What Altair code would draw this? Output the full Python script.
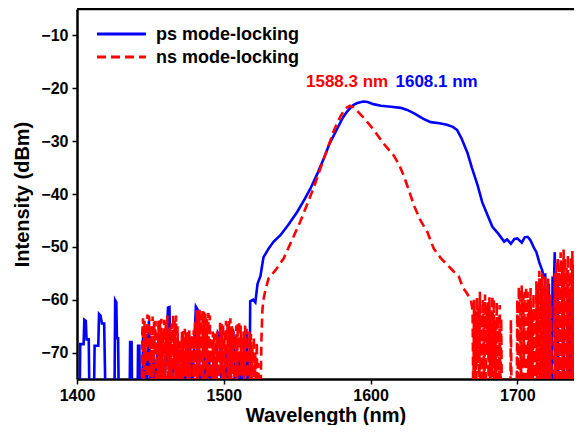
import altair as alt
import pandas as pd

# ---- data: (wavelength nm, intensity dBm) ----
# -80 marks the noise floor below the visible axis (clipped)
ps_noise_left = [
    (1400, -80), (1401.8, -80), (1402.2, -68.4), (1404.5, -68.4), (1405, -63.8), (1406, -64),
    (1406.5, -67.5), (1408, -67.5), (1408.5, -80), (1411.5, -80), (1412, -68.7), (1414.5, -68.7),
    (1415, -62.7), (1416, -63), (1417, -64.5), (1418.5, -64.5), (1419.5, -80), (1425.5, -80),
    (1426, -60.1), (1426.8, -60.5), (1427.2, -67.3), (1428, -67.3), (1428.5, -80), (1435.8, -80),
    (1436.2, -68), (1437.2, -68), (1437.6, -80), (1441.2, -80), (1441.6, -68.7), (1442.5, -68.7),
    (1443, -80), (1444.5, -80), (1445, -67), (1446, -66.5), (1447, -80), (1449, -64), (1450, -80),
    (1452, -70), (1453, -80), (1455, -68), (1456, -80), (1458, -72), (1459, -80), (1462, -61.5),
    (1463, -61.4), (1464, -80), (1467, -68), (1468, -80), (1470, -73), (1471, -80), (1473, -70),
    (1474, -80), (1477, -67), (1478, -80), (1481, -61.3), (1482.5, -62), (1484, -80), (1487, -69),
    (1488, -80), (1490, -71), (1491, -80), (1493, -72), (1494, -80), (1496, -66.3), (1497.5, -67),
    (1499, -80), (1502, -70), (1503, -80), (1505.5, -65.4), (1506.5, -66), (1508, -80), (1511, -70),
    (1512, -80), (1515.5, -66), (1516.5, -80), (1517.5, -80),
]
ps_band = [
    (1518, -60.3), (1520, -60), (1521.5, -60.5), (1523, -57), (1525, -55.5), (1527, -52),
    (1530.6, -50.3), (1534, -49), (1538.6, -47.8), (1544, -45.8), (1550, -43.4), (1555, -41),
    (1559, -39), (1564, -36), (1568, -33.4), (1572, -30.5), (1577, -27.8), (1581, -25.6),
    (1584, -24.4), (1588, -23.2), (1591, -22.8), (1595, -22.5), (1598, -22.6), (1602, -23.0),
    (1607, -23.3), (1614, -23.5), (1620.5, -23.7), (1625, -24.1), (1630, -24.8), (1636, -25.8),
    (1641, -26.4), (1647, -26.6), (1652, -26.9), (1656, -27.3), (1659, -27.9), (1662, -29.5),
    (1666, -32.2), (1669, -35), (1673, -38.4), (1676, -41.5), (1680, -44.2), (1683, -46.2),
    (1687, -47.5), (1691, -49), (1693, -48.6), (1695.6, -49.4), (1698, -48.5), (1700, -48.4),
    (1703, -49.2), (1705, -48.2), (1707, -48.1), (1709, -48.8), (1711.5, -50.3), (1713, -51),
    (1715, -53), (1717, -54.5), (1718, -56), (1719, -55),
]
ps_noise_right = [
    (1719.6, -80), (1721, -80), (1721.5, -57), (1722, -80), (1723.5, -80), (1724, -55.9),
    (1725, -56), (1725.5, -51), (1726, -80), (1727, -80), (1727.5, -57), (1728, -80), (1731, -80),
    (1731.5, -55.6), (1732, -80), (1735, -80), (1735.5, -58), (1736, -80), (1738.5, -80),
    (1739, -54), (1739.6, -80), (1741, -80), (1741.6, -48.4), (1742.8, -48.4), (1744, -49),
]

ns_noise_left = [
    (1444, -80), (1444.5, -66), (1445, -63.5), (1445.5, -80), (1446, -64), (1446.5, -72),
    (1447, -65), (1447.5, -80), (1448, -62.8), (1448.5, -80), (1449, -63), (1449.5, -64.5),
    (1450, -80), (1450.5, -65), (1451, -80), (1451.5, -63.2), (1452, -80), (1452.5, -64),
    (1453, -70), (1453.5, -64), (1454, -80), (1454.5, -66.5), (1455, -80), (1455.5, -64),
    (1456, -80), (1456.5, -63.6), (1457, -75), (1457.5, -63.6), (1458, -80), (1458.5, -65.8),
    (1459, -80), (1459.5, -63.8), (1460, -80), (1460.5, -64.2), (1461, -71), (1461.5, -63),
    (1462, -80), (1462.5, -66), (1463, -80), (1463.5, -64.8), (1464, -80), (1464.5, -64.5),
    (1465, -80), (1465.5, -62.8), (1466, -73), (1466.5, -64), (1467, -80), (1467.5, -63),
    (1468, -80), (1468.5, -65), (1469, -80), (1469.5, -67.5), (1470, -80), (1470.5, -68),
    (1471, -80), (1471.5, -66), (1472, -80), (1472.5, -65.9), (1473, -80), (1473.5, -65.5),
    (1474, -74), (1474.5, -66.3), (1475, -80), (1475.5, -66), (1476, -80), (1476.5, -65.8),
    (1477, -80), (1477.5, -67), (1478, -72), (1478.5, -66.5), (1479, -80), (1479.5, -65.8),
    (1480, -80), (1480.5, -64), (1481, -80), (1481.5, -62), (1482, -80), (1482.5, -62.2),
    (1483, -74), (1483.5, -61.9), (1484, -80), (1484.5, -62.8), (1485, -80), (1485.5, -62),
    (1486, -80), (1486.5, -62.3), (1487, -71), (1487.5, -62.5), (1488, -80), (1488.5, -63.6),
    (1489, -80), (1489.5, -62.5), (1490, -80), (1490.5, -63), (1491, -80), (1491.5, -67.8),
    (1492, -80), (1492.5, -66), (1493, -80), (1493.5, -65.9), (1494, -80), (1494.5, -66.5),
    (1495, -80), (1495.5, -66), (1496, -80), (1496.5, -67), (1497, -80), (1497.5, -64.2),
    (1498, -73), (1498.5, -64.6), (1499, -80), (1499.5, -64.5), (1500, -80), (1500.5, -66),
    (1501, -80), (1501.5, -64), (1502, -72), (1502.5, -64.6), (1503, -80), (1503.5, -64),
    (1504, -80), (1504.5, -63.5), (1505, -80), (1505.5, -65), (1506, -74), (1506.5, -66),
    (1507, -80), (1507.5, -67), (1508, -80), (1508.5, -64.9), (1509, -80), (1509.5, -64.5),
    (1510, -80), (1510.5, -64), (1511, -80), (1511.5, -64.9), (1512, -73), (1512.5, -67),
    (1513, -80), (1513.5, -66), (1514, -80), (1514.5, -64.9), (1515, -80), (1515.5, -65.5),
    (1516, -80), (1516.5, -68), (1517, -80), (1517.5, -66), (1518, -80), (1518.5, -66.5),
    (1519, -80), (1519.5, -69), (1520, -80), (1520.5, -67), (1521, -80), (1521.5, -70),
    (1522, -80), (1522.5, -68), (1523, -80), (1523.5, -72), (1524, -80), (1525, -80),
]
ns_band = [
    (1525.6, -68), (1526.3, -62), (1527, -60), (1528.5, -58), (1530.6, -55.9), (1535, -54.5),
    (1540.8, -52.2), (1546, -49), (1552, -45.3), (1556, -42.5), (1561, -39), (1566, -35),
    (1570.4, -31.6), (1575, -28), (1579.5, -25.3), (1582, -24.2), (1584, -23.6), (1586, -23.3),
    (1588.3, -23.6), (1591, -24.3), (1596, -25.8), (1602, -27.8), (1609, -30.5), (1616, -32.8),
    (1619.5, -34.5), (1622.7, -36.6), (1626, -39.2), (1629.6, -42.2), (1634, -45), (1638.7, -47.2),
    (1643, -50.3), (1648, -52.2), (1652.3, -53.4), (1656.8, -54.7), (1660, -55.5), (1663, -57.8),
    (1665, -58.5), (1668.3, -60), (1669.5, -62),
]
ns_noise_right = [
    (1670, -80), (1670.5, -60), (1671, -80), (1671.5, -62), (1672, -80), (1672.5, -59.5),
    (1673, -72), (1673.5, -61), (1674, -80), (1674.5, -58.5), (1675, -80), (1675.5, -62.5),
    (1676, -80), (1676.5, -60), (1677, -66), (1677.5, -80), (1678, -59), (1678.5, -80),
    (1679, -61), (1679.5, -70), (1680, -60.5), (1680.5, -80), (1681, -59.5), (1681.5, -80),
    (1682, -62), (1682.5, -80), (1683, -59.2), (1683.5, -73), (1684, -60), (1684.5, -80),
    (1685, -64), (1685.5, -80), (1686, -60.5), (1686.5, -80), (1687, -63), (1687.5, -80),
    (1688, -61), (1688.5, -80), (1689, -63.5), (1689.5, -80), (1695.2, -80), (1695.6, -63.8),
    (1696.1, -80), (1699.5, -80), (1700, -60), (1700.5, -80), (1701, -57.5), (1701.5, -75),
    (1702, -58), (1702.5, -80), (1703, -57.2), (1703.5, -80), (1704, -59), (1704.5, -72),
    (1705, -58.5), (1705.5, -80), (1706, -57.5), (1706.5, -80), (1707, -58.5), (1707.5, -80),
    (1708, -60), (1708.5, -80), (1709, -57.8), (1709.5, -80), (1710, -62), (1710.5, -80),
    (1711, -59), (1711.5, -80), (1712, -63), (1712.5, -80), (1713, -56.5), (1713.5, -80),
    (1714, -57), (1714.5, -80), (1715, -54.5), (1715.5, -80), (1716, -56), (1716.5, -80),
    (1717, -55), (1717.5, -80), (1718, -57), (1718.5, -80), (1719, -55.5), (1719.5, -80),
    (1720, -58), (1720.5, -80), (1721, -56), (1721.5, -80), (1722, -59), (1722.5, -80),
    (1723, -61), (1723.5, -80), (1725, -80), (1725.5, -55), (1726, -80), (1726.5, -53),
    (1727, -80), (1727.5, -52), (1728, -80), (1728.5, -53.5), (1729, -80), (1729.5, -51),
    (1730, -80), (1730.5, -52.8), (1731, -80), (1731.5, -50.5), (1732, -80), (1732.5, -52),
    (1733, -80), (1733.5, -54), (1734, -80), (1734.5, -51.5), (1735, -80), (1735.5, -55),
    (1736, -80), (1736.5, -52), (1737, -80), (1737.5, -50.8), (1738, -80), (1738.5, -53),
    (1739, -80), (1739.5, -50.5), (1740, -80), (1740.5, -51), (1741, -80), (1741.5, -49.5),
    (1742, -80), (1742.5, -50.3), (1743, -80), (1743.5, -51), (1744, -80),
]

series_names = ["ps mode-locking", "ns mode-locking"]
series_colors = ["#0000ff", "#ff0000"]
series_dashes = [[1, 0], [9, 5]]

peak_labels = ["1588.3 nm", "1608.1 nm"]
peak_label_x = [1584, 1645]
peak_label_y = [-18.8, -18.8]
peak_label_colors = ["#ff0000", "#0000ff"]

x_ticks = [1400, 1500, 1600, 1700]
y_ticks = [-70, -60, -50, -40, -30, -20, -10]
x_domain = [1400, 1738.6]
y_domain = [-75, -5]

FONT = "Liberation Sans"
W, H = 497, 370


def to_df(*segments):
    pts = [p for seg in segments for p in seg]
    return pd.DataFrame({"wl": [p[0] for p in pts], "db": [p[1] for p in pts]})


ps_df = to_df(ps_noise_left, ps_band, ps_noise_right)
ns_df = to_df(ns_noise_left, ns_band, ns_noise_right)
label_df = pd.DataFrame({"wl": peak_label_x, "db": peak_label_y,
                         "label": peak_labels, "c": peak_label_colors})
top_df = pd.DataFrame({"db": [y_domain[1]]})

x_enc = alt.X("wl:Q", scale=alt.Scale(domain=x_domain, nice=False, zero=False),
              axis=alt.Axis(values=x_ticks, title="Wavelength (nm)", format="d",
                            labelFlush=False))
y_enc = alt.Y("db:Q", scale=alt.Scale(domain=y_domain, nice=False, zero=False),
              axis=alt.Axis(values=y_ticks, title="Intensity (dBm)", labelFlush=False))

ps_line = alt.Chart(ps_df).mark_line(strokeWidth=2.6, clip=True,
                                     color=series_colors[0]).encode(
    x=x_enc, y=y_enc, order="wl:Q")
ns_line = alt.Chart(ns_df).mark_line(strokeWidth=2.6, clip=True, color=series_colors[1],
                                     strokeDash=series_dashes[1]).encode(
    x=x_enc, y=y_enc, order="wl:Q")

labels = alt.Chart(label_df).mark_text(font=FONT, fontWeight="bold", fontSize=17,
                                       align="center", baseline="middle").encode(
    x="wl:Q", y="db:Q", text="label:N", color=alt.Color("c:N", scale=None))

top_rule = alt.Chart(top_df).mark_rule(color="black", strokeWidth=2.5).encode(y="db:Q")

# legend (drawn in the upper-left corner of the plot area)
leg_ps_line = alt.Chart(top_df).mark_rule(color=series_colors[0], strokeWidth=3).encode(
    x=alt.value(20), x2=alt.value(69), y=alt.value(25))
leg_ns_line = alt.Chart(top_df).mark_rule(color=series_colors[1], strokeWidth=3,
                                          strokeDash=series_dashes[1]).encode(
    x=alt.value(20), x2=alt.value(69), y=alt.value(48))
leg_ps_text = alt.Chart(top_df).mark_text(font=FONT, fontWeight="bold", fontSize=18,
                                          align="left", baseline="middle", color="black",
                                          text=series_names[0]).encode(
    x=alt.value(79), y=alt.value(26))
leg_ns_text = alt.Chart(top_df).mark_text(font=FONT, fontWeight="bold", fontSize=18,
                                          align="left", baseline="middle", color="black",
                                          text=series_names[1]).encode(
    x=alt.value(79), y=alt.value(49))

chart = alt.layer(ps_line, ns_line, labels, top_rule,
                  leg_ps_line, leg_ns_line, leg_ps_text, leg_ns_text).properties(
    width=W, height=H,
    autosize=alt.AutoSizeParams(type="none"),
    padding={"left": 69, "top": 1, "right": 0, "bottom": 46},
).configure_view(stroke=None).configure_axis(
    grid=False,
    domainColor="black", domainWidth=2.5,
    tickColor="black", tickWidth=1.5, tickSize=5,
    labelFont=FONT, labelFontWeight="bold", labelFontSize=16, labelColor="black",
    labelPadding=4,
    titleFont=FONT, titleFontWeight="bold", titleFontSize=20, titleColor="black",
).configure_axisX(titlePadding=2, labelPadding=3).configure_axisY(titlePadding=8)

chart.save("out.html", embed_options={"renderer": "svg", "actions": False})
